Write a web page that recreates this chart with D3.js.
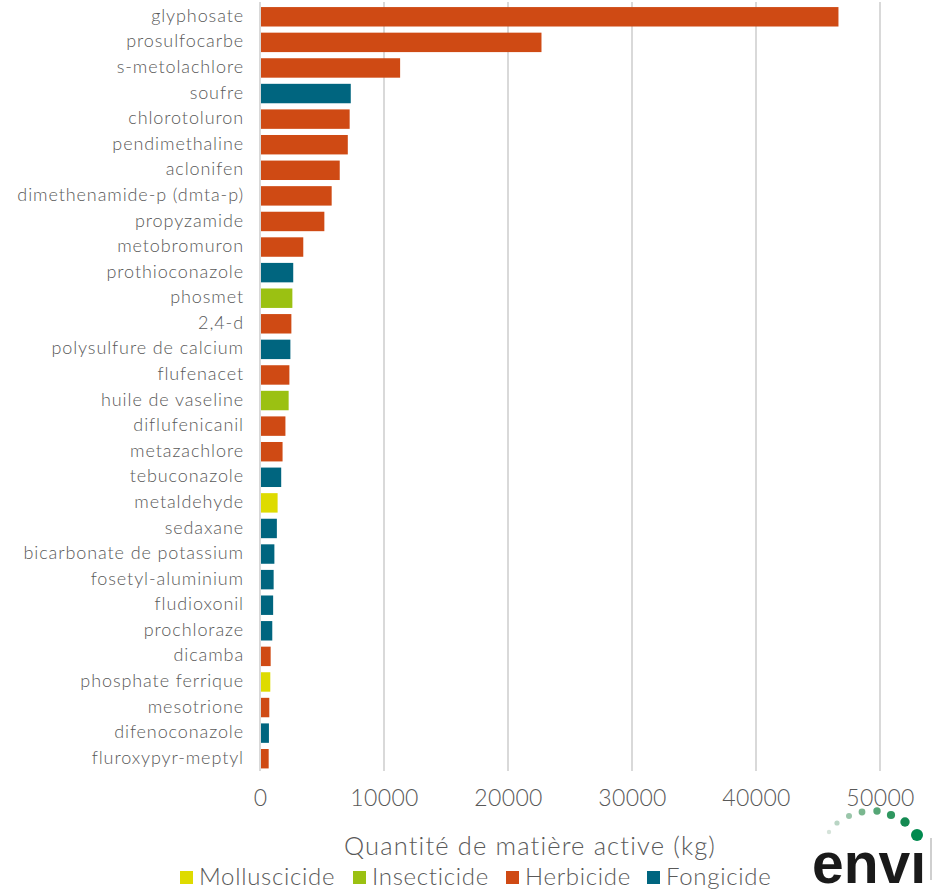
<!DOCTYPE html>
<html>
<head>
<meta charset="utf-8">
<script src="https://cdn.jsdelivr.net/npm/d3@7"></script>
<style>
  html, body { margin: 0; padding: 0; background: #ffffff; }
  svg { display: block; }
  text { font-family: Lato, "Open Sans", sans-serif; font-weight: 300; fill: #595959; }
</style>
</head>
<body>
<svg id="chart" width="932" height="889"></svg>
<script>
const categories = ["glyphosate","prosulfocarbe","s-metolachlore","soufre","chlorotoluron","pendimethaline","aclonifen","dimethenamide-p (dmta-p)","propyzamide","metobromuron","prothioconazole","phosmet","2,4-d","polysulfure de calcium","flufenacet","huile de vaseline","diflufenicanil","metazachlore","tebuconazole","metaldehyde","sedaxane","bicarbonate de potassium","fosetyl-aluminium","fludioxonil","prochloraze","dicamba","phosphate ferrique","mesotrione","difenoconazole","fluroxypyr-meptyl"];
const values = [46650,22700,11300,7320,7230,7080,6430,5780,5190,3490,2680,2610,2530,2450,2370,2310,2050,1820,1710,1420,1360,1160,1100,1060,990,860,830,750,720,700];
const types = ["Herbicide","Herbicide","Herbicide","Fongicide","Herbicide","Herbicide","Herbicide","Herbicide","Herbicide","Herbicide","Fongicide","Insecticide","Herbicide","Fongicide","Herbicide","Insecticide","Herbicide","Herbicide","Fongicide","Molluscicide","Fongicide","Fongicide","Fongicide","Fongicide","Fongicide","Herbicide","Molluscicide","Herbicide","Fongicide","Herbicide"];
const legendTypes = ["Molluscicide","Insecticide","Herbicide","Fongicide"];
const typeColors = ["#dedb00","#9bc112","#cf4a14","#00657f"];
const xTicks = [0,10000,20000,30000,40000,50000];
const xTitle = "Quantité de matière active (kg)";

const FONT = "Lato, 'Open Sans', sans-serif";
const svg = d3.select("#chart");
const color = d3.scaleOrdinal().domain(legendTypes).range(typeColors);
const x = d3.scaleLinear().domain([0, 50000]).range([260, 880]);
const y = d3.scaleBand().domain(categories).range([4, 771.5]).paddingInner(0.24).paddingOuter(0.12);

// gridlines
svg.append("g").selectAll("line").data(xTicks).join("line")
  .attr("x1", d => x(d)).attr("x2", d => x(d))
  .attr("y1", 2).attr("y2", 771)
  .attr("stroke", "#d9d9d9").attr("stroke-width", 2);

// bars
const data = categories.map((c, i) => ({c, v: values[i], t: types[i]}));
svg.append("g").selectAll("rect").data(data).join("rect")
  .attr("x", x(0) + 1).attr("y", d => y(d.c))
  .attr("width", d => x(d.v) - x(0) - 1).attr("height", y.bandwidth())
  .attr("fill", d => color(d.t));

// y labels
const yAxis = d3.axisLeft(y).tickSize(0).tickPadding(0);
const gy = svg.append("g").attr("transform", "translate(244,0)").call(yAxis);
gy.select(".domain").remove();
gy.selectAll("text").attr("font-size", 18).style("font-family", FONT).style("font-weight", 300)
  .style("letter-spacing", "0.9px").attr("fill", "#595959").attr("dy", "0.28em");

// x tick labels
const xAxis = d3.axisBottom(x).tickValues(xTicks).tickSize(0).tickPadding(0).tickFormat(d3.format("d"));
const gx = svg.append("g").attr("transform", "translate(0,790)").call(xAxis);
gx.select(".domain").remove();
gx.selectAll("text").attr("font-size", 23).style("font-family", FONT).style("font-weight", 300)
  .style("letter-spacing", "0.4px").attr("fill", "#595959").attr("dy", "0.71em");

// axis title
svg.append("text").attr("x", 530).attr("y", 855).attr("text-anchor", "middle")
  .attr("font-size", 25.5).style("letter-spacing", "1.15px").text(xTitle);

// legend
const legendX = [180, 353, 506, 647];
const lg = svg.append("g").selectAll("g").data(legendTypes).join("g")
  .attr("transform", (d, i) => `translate(${legendX[i]},871)`);
lg.append("rect").attr("width", 13).attr("height", 13).attr("fill", d => color(d));
lg.append("text").attr("x", 19).attr("y", 13.5).attr("font-size", 24)
  .style("letter-spacing", "0.7px").text(d => d);

// logo
const logo = svg.append("g");
const dots = [[829,832,2.2,"#d5e3da"],[837,823,2.6,"#b9d5c4"],[849,816,3.0,"#9ac6aa"],[862,812,3.4,"#7ab78f"],[877,811,3.7,"#55a676"],[891,815,4.1,"#2f9760"],[905,822,4.7,"#148a52"],[917,835,6,"#008a4f"]];
logo.selectAll("circle").data(dots).join("circle")
  .attr("cx", d => d[0]).attr("cy", d => d[1]).attr("r", d => d[2]).attr("fill", d => d[3]);
logo.append("text").attr("x", 812).attr("y", 883)
  .style("font-family", "'Liberation Sans', Arial, sans-serif").style("font-weight", 700)
  .attr("font-size", 58).attr("textLength", 114).attr("lengthAdjust", "spacingAndGlyphs")
  .style("fill", "#1a1a1a").text("envı");
logo.append("line").attr("x1", 931).attr("x2", 931).attr("y1", 838).attr("y2", 880)
  .attr("stroke", "#bfbfbf").attr("stroke-width", 1.5);
</script>
</body>
</html>
